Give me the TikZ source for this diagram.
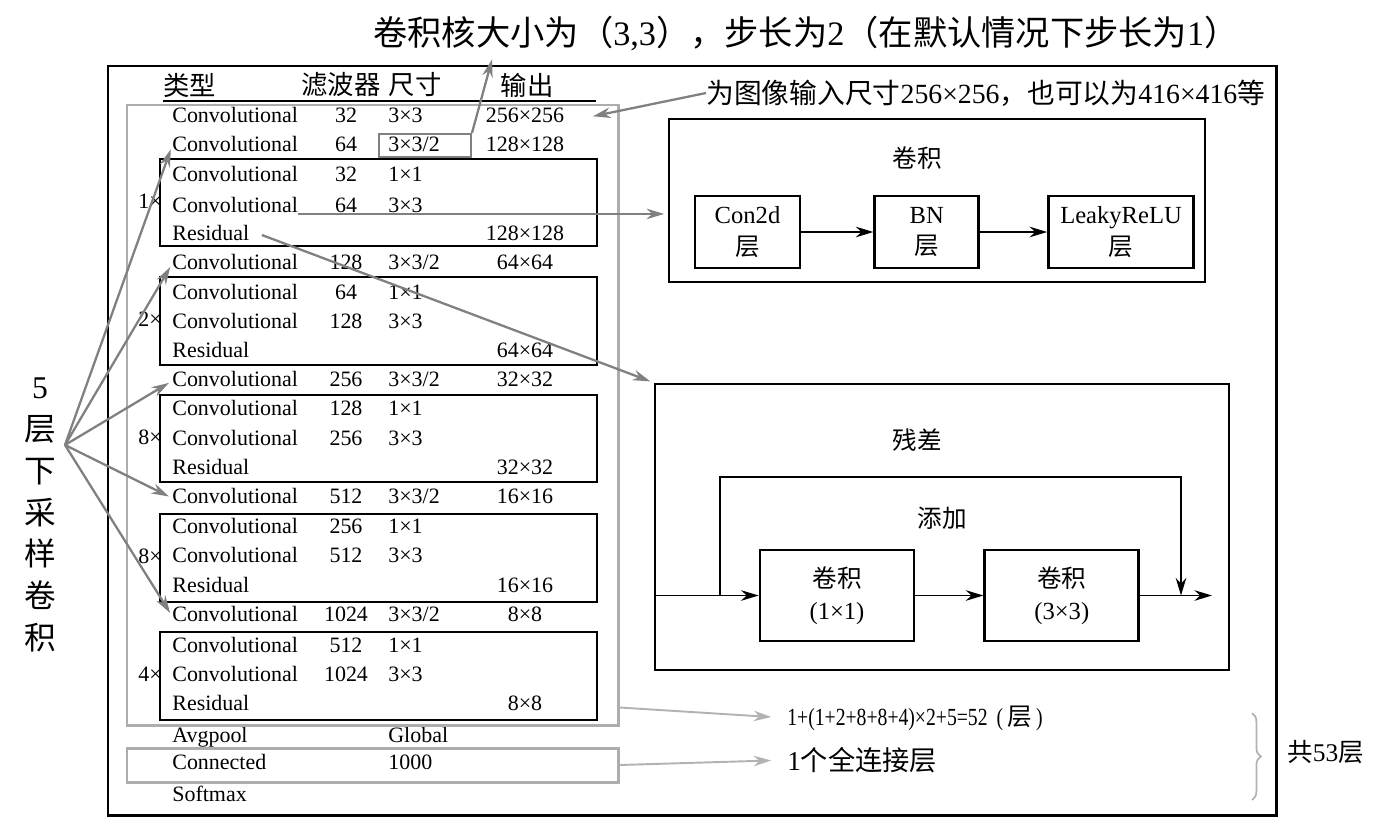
\documentclass[tikz,border=0pt]{standalone}
\usepackage{fontspec}
\setmainfont{Liberation Serif}
\newfontfamily\cjk{Noto Sans CJK SC}
\newfontfamily\narrowrm[FakeStretch=0.8]{Liberation Serif}
\usetikzlibrary{positioning,fit,arrows.meta,decorations.pathreplacing}

\begin{document}
\begin{tikzpicture}[x=0.02cm,y=-0.02cm,
		every node/.style={inner sep=0pt,font=\fontsize{12.5}{15}\selectfont},
		row/.style={text height=9pt,text depth=2.5pt},
		blk/.style={draw,line width=1.6pt},
		gbox/.style={draw=black!32,line width=1.7pt,inner sep=0pt},
		garrow/.style={color=black!50,line width=1.3pt,shorten >=2pt,-{Stealth[length=10pt,width=6pt]}},
		larrow/.style={color=black!30,line width=1.1pt,-{Stealth[length=10pt,width=6pt]}},
		barrow/.style={line width=1.1pt,-{Stealth[length=10pt,width=6pt]}},
		layer/.style={draw,line width=1.6pt,align=center,inner sep=2pt,font=\fontsize{14}{18}\selectfont},
		zh/.style={font=\cjk\fontsize{#1}{#1}\selectfont}]
		\useasboundingbox (0,0) rectangle (1376,825);
		\draw[line width=1.7pt] (108,66) rectangle (1276,815);
		% title and table head
		\node[font=\fontsize{19.5}{22}\selectfont] (title) at (806,33) {{\cjk 卷积核大小为（}3,3{\cjk ），步长为}2{\cjk （在默认情况下步长为}1{\cjk ）}};
		\node[zh=15,anchor=west] (hty) at (163,85) {类型};
		\node[zh=15] (hf) at (341,85) {滤波器};
		\node[zh=15] (hs) at (415,85) {尺寸};
		\node[zh=15] (ho) at (527,85) {输出};
		\draw[line width=1pt] (163,101) -- (596,101);
		% rows
		\foreach \y/\ty/\f/\s/\o [count=\i] in {
				117/Convolutional/32/3×3/256×256,
				146/Convolutional/64/{3×3/2}/128×128,
				176/Convolutional/32/1×1/{},
				207/Convolutional/64/3×3/{},
				235/Residual/{}/{}/128×128,
				264/Convolutional/128/{3×3/2}/64×64,
				294/Convolutional/64/1×1/{},
				323/Convolutional/128/3×3/{},
				352/Residual/{}/{}/64×64,
				381/Convolutional/256/{3×3/2}/32×32,
				410/Convolutional/128/1×1/{},
				440/Convolutional/256/3×3/{},
				469/Residual/{}/{}/32×32,
				498/Convolutional/512/{3×3/2}/16×16,
				528/Convolutional/256/1×1/{},
				557/Convolutional/512/3×3/{},
				587/Residual/{}/{}/16×16,
				616/Convolutional/1024/{3×3/2}/8×8,
				647/Convolutional/512/1×1/{},
				676/Convolutional/1024/3×3/{},
				705/Residual/{}/{}/8×8,
				737/Avgpool/{}/Global/{},
				764/Connected/{}/1000/{},
				796/Softmax/{}/{}/{}} {
			\node[row,anchor=west] (ty\i) at (172,\y) {\ty};
			\node[row] (f\i) at (346,\y) {\f};
			\node[row,anchor=west] (s\i) at (388,\y) {\s};
			\node[row] (o\i) at (525,\y) {\o};
		}
		\foreach \t/\b/\n [count=\k] in {159/246/1,277/365/2,395/482/8,514/602/8,632/720/4} {
			\draw[blk] (160,\t) rectangle (597,\b);
			\node[row,anchor=east] (rep\k) at (162,{(\t+\b)/2}) {\n×};
		}
		\node[gbox,fit={(127,105) (618,725)}] (body) {};
		\node[gbox,fit={(127,748) (618,782)}] (conn) {};
		\node[draw=black!50,line width=1.1pt,fit={(379,134) (471,157)}] (sbox) {};
		% left label
		\node[align=center,font=\fontsize{18}{23.8}\selectfont] (down) at (40,515) {5\\{\cjk 层}\\{\cjk 下}\\{\cjk 采}\\{\cjk 样}\\{\cjk 卷}\\{\cjk 积}};
		\coordinate (src) at (65,445);
		\path[garrow] (src) edge (ty2.west) (src) edge (ty6.west) (src) edge (ty10.west)
		(src) edge (ty14.west) (src) edge (ty18.west);
		% convolution block
		\node[anchor=west,font=\fontsize{15.8}{18}\selectfont] (note) at (706,93) {{\cjk 为图像输入尺寸}256×256{\cjk ，也可以为}416×416{\cjk 等}};
		\node[blk,minimum width=10.72cm,minimum height=3.26cm] (convbox) at (937,200.5) {};
		\node[zh=14] (convlbl) at (917,158) {卷积};
		\node[layer,minimum width=2.1cm,minimum height=1.44cm] (con2d) at (747.5,232) {Con2d\\{\cjk 层}};
		\node[layer,minimum width=2.08cm,minimum height=1.44cm,right=1.44cm of con2d] (bn) {BN\\{\cjk 层}};
		\node[layer,minimum width=2.9cm,minimum height=1.44cm,right=1.34cm of bn] (leaky) {LeakyReLU\\{\cjk 层}};
		\path[barrow] (con2d) edge (bn) (bn) edge (leaky);
		% residual block
		\node[blk,minimum width=11.48cm,minimum height=5.72cm] (resbox) at (942,527) {};
		\node[zh=14] (reslbl) at (917,440) {残差};
		\node[zh=14] (addlbl) at (942,518) {添加};
		\node[layer,minimum width=3.08cm,minimum height=1.82cm] (rc1) at (837,595.5) {{\cjk 卷积}\\(1×1)};
		\node[layer,minimum width=3.08cm,minimum height=1.82cm,right=1.36cm of rc1] (rc2) {{\cjk 卷积}\\(3×3)};
		\coordinate (skipin) at (720,477);
		\coordinate (skipout) at (1181,477);
		\coordinate (resout) at (1212,595.5);
		\path[barrow] (resbox.west |- rc1.west) edge (rc1.west) (rc1) edge (rc2) (rc2.east) edge (resout);
		\draw[barrow,line width=0.9pt] (skipin |- rc1.west) -- (skipin) -- (skipout) -- (skipout |- rc2.east);
		% pointers
		\coordinate (ttip) at (493,56);
		\coordinate (c4) at ([yshift=2pt]ty4.south east);
		\path[garrow] (note.west) edge ([xshift=0.5cm]o1.east)
		(sbox.north east) edge (ttip)
		(c4) edge (c4 -| convbox.west)
		([xshift=7pt]ty5.east) edge (resbox.north west);
		% layer count
		\node[anchor=west,font=\narrowrm\fontsize{14}{16}\selectfont] (sum) at (787,718) {1+(1+2+8+8+4)×2+5=52\ \,(\,{\cjk 层}\,)};
		\node[anchor=west,font=\fontsize{15.5}{16}\selectfont] (fc) at (787,760) {1{\cjk 个全连接层}};
		\path[larrow,shorten >=9pt] ([yshift=0.38cm]body.south east) edge (sum.west)
		(conn.east) edge (fc.west);
		\coordinate (brtop) at (1252,713);
		\coordinate (brbot) at (1252,800);
		\draw[draw=black!30,line width=1pt,decorate,decoration={brace,amplitude=5pt}] (brtop) -- (brbot);
		\node[anchor=west,font=\fontsize{14.5}{16}\selectfont] (total) at (1287,752) {{\cjk 共}53{\cjk 层}};
\end{tikzpicture}
\end{document}
